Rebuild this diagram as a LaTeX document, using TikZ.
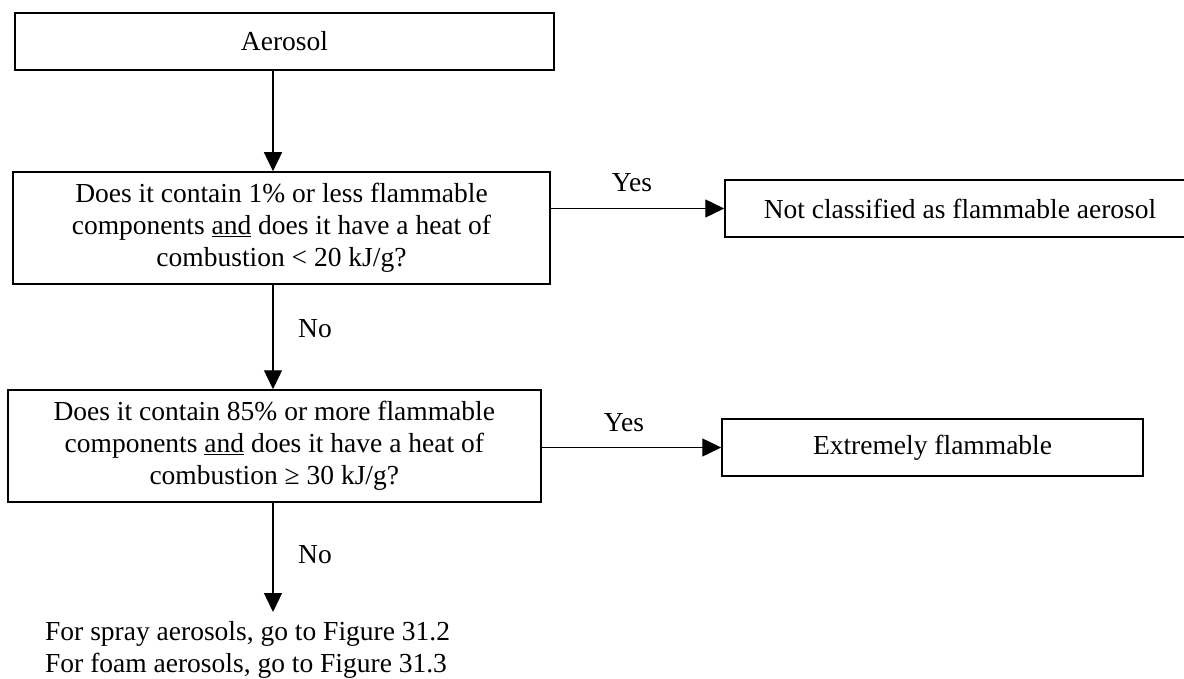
\documentclass[tikz,border=0pt]{standalone}
\usepackage{fontspec}
\setmainfont{Liberation Serif}
\usetikzlibrary{
  arrows.meta,
  positioning
}

\begin{document}
\begin{tikzpicture}[
      x=1pt, y=-1pt,
      box/.style={
         rectangle,
         draw=black,
         line width=1.5pt,
         inner sep=0pt
      },
      yesno/.style={inner sep=0pt, anchor=base},
      tip/.style={-{Triangle[length=19pt,width=18pt]}, line width=1.4pt},
      font=\fontsize{27.5}{32}\selectfont
    ]
  \useasboundingbox (0,0) rectangle (1184,679);
  % boxes
  \node (aerosol) [box, minimum width=539pt, minimum height=57pt] at (284.5,41.5) {Aerosol};
  \node (q1) [box, minimum width=537pt, minimum height=112pt] at (281.5,228)
    {\begin{tabular}{@{}c@{}}Does it contain 1\% or less flammable\\ components \underline{and} does it have a heat of\\ combustion < 20 kJ/g?\end{tabular}};
  \node (nc) [box, minimum width=470pt, minimum height=57pt] at (960,208.5) {Not classified as flammable aerosol};
  \node (q2) [box, minimum width=533pt, minimum height=112pt] at (274.3,446)
    {\begin{tabular}{@{}c@{}}Does it contain 85\% or more flammable\\ components \underline{and} does it have a heat of\\ combustion ≥ 30 kJ/g?\end{tabular}};
  \node (ext) [box, minimum width=421pt, minimum height=57pt] at (932.5,447.5) {Extremely flammable};
  \node (next) [anchor=base west, inner sep=0pt] at (45,640)
    {\begin{tabular}[t]{@{}l@{}}For spray aerosols, go to Figure 31.2\\ For foam aerosols, go to Figure 31.3\end{tabular}};
  \coordinate (goto) at (273,612);
  % labels
  \node (yes1) [yesno] at (632,192) {Yes};
  \node (yes2) [yesno] at (624,431) {Yes};
  \node (no1) [yesno, anchor=base west] at (298,337) {No};
  \node (no2) [yesno, anchor=base west] at (298,563) {No};
  % arrows
  \draw[tip] ([xshift=-11.5pt]aerosol.south) -- ([xshift=-8.5pt]q1.north);
  \draw[tip] (q1.east |- nc.west) -- (nc.west);
  \draw[tip] ([xshift=-8.5pt]q1.south) -- ([xshift=-1.3pt]q2.north);
  \draw[tip] (q2.east |- ext.west) -- (ext.west);
  \draw[tip] ([xshift=-1.3pt]q2.south) -- (goto);
\end{tikzpicture}
\end{document}
